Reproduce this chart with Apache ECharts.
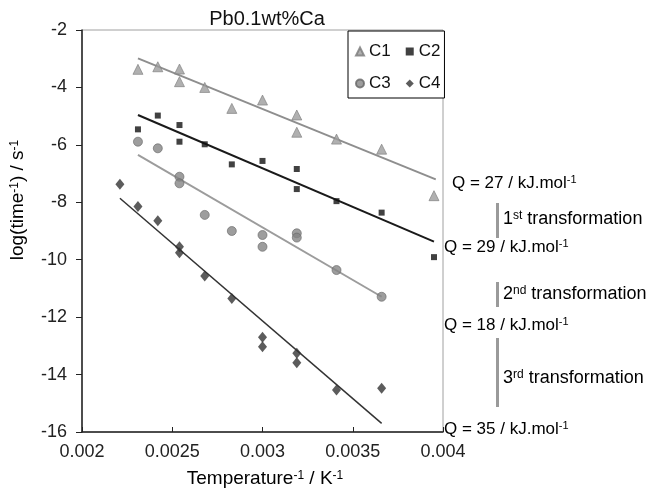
<!DOCTYPE html>
<html>
<head>
<meta charset="utf-8">
<script src="https://cdn.jsdelivr.net/npm/echarts@6/dist/echarts.min.js"></script>
<style>
  html, body {margin: 0; padding: 0; background: #fff;}
  #chart {width: 656px; height: 496px;}
</style>
</head>
<body>
<div id="chart"></div>
<script>
// measured points, x = 1/T (K^-1), y = log(1/t)
const c1 = [[0.00231, -3.37], [0.00242, -3.28], [0.00254, -3.36], [0.00254, -3.80], [0.00268, -4.00], [0.00283, -4.73],
  [0.00300, -4.44], [0.00319, -4.96], [0.00319, -5.56], [0.00341, -5.80], [0.00366, -6.15], [0.00395, -7.77]];
const c2 = [[0.00231, -5.46], [0.00242, -4.98], [0.00254, -5.31], [0.00254, -5.89], [0.00268, -5.98], [0.00283, -6.68],
  [0.00300, -6.56], [0.00319, -6.84], [0.00319, -7.54], [0.00341, -7.96], [0.00366, -8.36], [0.00395, -9.91]];
const c3 = [[0.00231, -5.89], [0.00242, -6.12], [0.00254, -7.11], [0.00254, -7.34], [0.00268, -8.44], [0.00283, -9.00],
  [0.00300, -9.14], [0.00300, -9.55], [0.00319, -9.08], [0.00319, -9.23], [0.00341, -10.36], [0.00366, -11.29]];
const c4 = [[0.00221, -7.37], [0.00231, -8.15], [0.00242, -8.64], [0.00254, -9.55], [0.00254, -9.76], [0.00268, -10.57],
  [0.00283, -11.35], [0.00300, -12.70], [0.00300, -13.03], [0.00319, -13.26], [0.00319, -13.59], [0.00341, -14.54],
  [0.00366, -14.48]];

// linear fit end points
const fit1 = [[0.00231, -2.99], [0.00396, -7.20]];
const fit2 = [[0.00231, -4.96], [0.00395, -9.37]];
const fit3 = [[0.00231, -6.35], [0.00366, -11.29]];
const fit4 = [[0.00221, -7.86], [0.00366, -15.70]];

const qValues = [27, 29, 18, 35];
const stages = [['1', 'st'], ['2', 'nd'], ['3', 'rd']];

const font = 'Liberation Sans, Arial, sans-serif';
const rich = {
  n: {fontSize: 17, fontFamily: font, color: '#111'},
  s: {fontSize: 11, fontFamily: font, color: '#111', verticalAlign: 'top', padding: [0, 0, 6, 0]}
};
const stageRich = {
  n: {fontSize: 18, fontFamily: font, color: '#111'},
  s: {fontSize: 12, fontFamily: font, color: '#111', verticalAlign: 'top', padding: [0, 0, 6, 0]}
};
const bigRich = {
  n: {fontSize: 19, fontFamily: font, color: '#111'},
  s: {fontSize: 12, fontFamily: font, color: '#111', verticalAlign: 'top', padding: [0, 0, 7, 0]}
};

function qText(q) {
  return '{n|Q = ' + q + ' / kJ.mol}{s|-1}';
}
function stageText(st) {
  return '{n|' + st[0] + '}{s|' + st[1] + '}{n| transformation}';
}

const qPos = [[452, 183], [444, 247], [444, 325], [444, 429]];
const stagePos = [[503, 219], [503, 294], [503, 378]];
const bars = [[203, 238], [282, 307], [338, 407]];

const graphic = [];
qValues.forEach((q, i) => {
  graphic.push({type: 'text', x: qPos[i][0], y: qPos[i][1],
    style: {text: qText(q), rich: rich, textAlign: 'left', textVerticalAlign: 'middle'}});
});
stages.forEach((st, i) => {
  graphic.push({type: 'text', x: stagePos[i][0], y: stagePos[i][1],
    style: {text: stageText(st), rich: stageRich, textAlign: 'left', textVerticalAlign: 'middle'}});
  graphic.push({type: 'rect', shape: {x: 496, y: bars[i][0], width: 3, height: bars[i][1] - bars[i][0]},
    style: {fill: '#9a9a9a'}});
});
graphic.push({type: 'text', x: 18, y: 200, rotation: Math.PI / 2,
  style: {text: '{n|log(time}{s|-1}{n|) / s}{s|-1}', rich: bigRich, textAlign: 'center', textVerticalAlign: 'middle'}});
graphic.push({type: 'text', x: 265, y: 479,
  style: {text: '{n|Temperature}{s|-1}{n| / K}{s|-1}', rich: bigRich, textAlign: 'center', textVerticalAlign: 'middle'}});

const chart = echarts.init(document.getElementById('chart'));
chart.setOption({
  animation: false,
  title: {
    text: 'Pb0.1wt%Ca', left: 262, top: 4, textAlign: 'center',
    textStyle: {fontSize: 20, fontWeight: 'normal', fontFamily: font, color: '#111'}
  },
  grid: {left: 82, right: 213, top: 30, bottom: 64, show: true, borderColor: '#a0a0a0', borderWidth: 1},
  legend: {
    data: ['C1', 'C2', '', 'C3', 'C4'],
    left: 348, top: 31,
    padding: [12, 4, 6, 7],
    itemGap: 15,
    itemWidth: 8, itemHeight: 8,
    borderColor: '#000', borderWidth: 1,
    backgroundColor: '#fff',
    textStyle: {fontSize: 17, fontFamily: font, color: '#111'}
  },
  xAxis: {
    type: 'value', min: 0.002, max: 0.004, interval: 0.0005,
    axisLine: {onZero: false, lineStyle: {color: '#222', width: 1.5}},
    axisTick: {inside: true, length: 5, lineStyle: {color: '#222'}},
    axisLabel: {
      margin: 11, fontSize: 18, fontFamily: font, color: '#222',
      formatter: v => String(parseFloat(v.toFixed(4)))
    },
    splitLine: {show: false}
  },
  yAxis: {
    type: 'value', min: -16, max: -2, interval: 2,
    axisLine: {onZero: false, lineStyle: {color: '#222', width: 1.5}},
    axisTick: {length: 6, lineStyle: {color: '#222'}},
    axisLabel: {margin: 15, fontSize: 18, fontFamily: font, color: '#222'},
    splitLine: {show: false}
  },
  graphic: graphic,
  series: [
    {name: 'fit1', type: 'line', data: fit1, symbol: 'none', lineStyle: {color: '#8e8e8e', width: 2}, z: 1},
    {name: 'fit2', type: 'line', data: fit2, symbol: 'none', lineStyle: {color: '#1a1a1a', width: 2}, z: 1},
    {name: 'fit3', type: 'line', data: fit3, symbol: 'none', lineStyle: {color: '#9c9c9c', width: 2}, z: 1},
    {name: 'fit4', type: 'line', data: fit4, symbol: 'none', lineStyle: {color: '#333', width: 1.5}, z: 1},
    {name: 'C1', type: 'scatter', data: c1, symbol: 'triangle', symbolSize: 10,
      itemStyle: {color: '#9c9c9c', borderColor: '#7a7a7a', borderWidth: 0.8}},
    {name: 'C2', type: 'scatter', data: c2, symbol: 'rect', symbolSize: 6,
      itemStyle: {color: '#111'}},
    {name: 'C3', type: 'scatter', data: c3, symbol: 'circle', symbolSize: 9,
      itemStyle: {color: '#858585', borderColor: '#666', borderWidth: 0.8}},
    {name: 'C4', type: 'scatter', data: c4, symbol: 'diamond', symbolSize: [9, 11],
      itemStyle: {color: '#333'}}
  ]
});
</script>
</body>
</html>
